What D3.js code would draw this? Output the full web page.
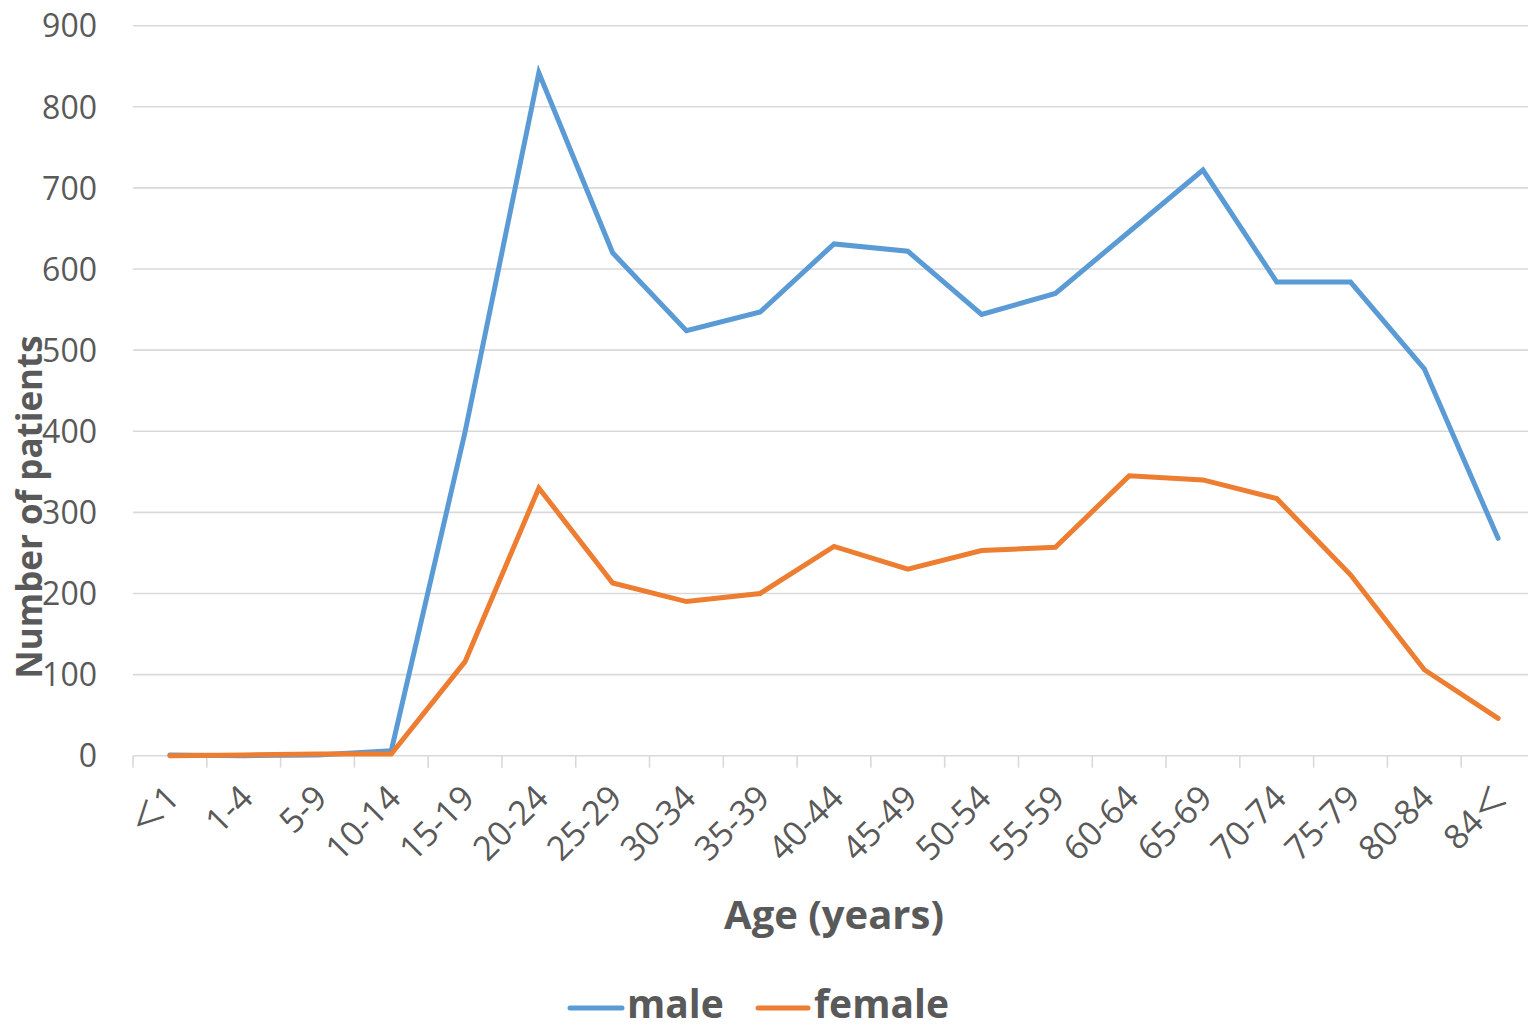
<!DOCTYPE html>
<html>
<head>
<meta charset="utf-8">
<script src="https://cdn.jsdelivr.net/npm/d3@7"></script>
<style>
  html, body { margin: 0; padding: 0; background: #fff; }
  svg { display: block; font-family: "Open Sans", "Noto Sans CJK JP", sans-serif; }
</style>
</head>
<body>
<svg id="chart" width="1528" height="1030"></svg>
<script>
const categories = ["＜1","1-4","5-9","10-14","15-19","20-24","25-29","30-34","35-39","40-44","45-49","50-54","55-59","60-64","65-69","70-74","75-79","80-84","84＜"];
const maleValues = [1, 0, 1, 6, 399, 842, 620, 524, 547, 631, 622, 544, 570, 646, 722, 584, 584, 477, 268];
const femaleValues = [0, 1, 2, 2, 116, 330, 213, 190, 200, 258, 230, 253, 257, 345, 340, 317, 223, 106, 46];
const yTicks = [0, 100, 200, 300, 400, 500, 600, 700, 800, 900];
const seriesNames = ["male", "female"];
const seriesColors = ["#5b9bd5", "#ed7d31"];

(function () {
const svg = d3.select("#chart");
const mLeft = 133, mRight = 1535, mTop = 25.7, mBottom = 755.7;
const textColor = "#595959";
const gridColor = "#d9d9d9";

const x = d3.scaleBand().domain(categories).range([mLeft, mRight]).paddingInner(0).paddingOuter(0);
const y = d3.scaleLinear().domain([0, 900]).range([mBottom, mTop]);

// gridlines
svg.append("g").selectAll("line").data(yTicks).join("line")
  .attr("x1", mLeft).attr("x2", 1528)
  .attr("y1", d => y(d)).attr("y2", d => y(d))
  .attr("stroke", gridColor).attr("stroke-width", 1.6);

// y axis labels
const yAxis = d3.axisLeft(y).tickValues(yTicks).tickSize(0).tickPadding(36);
const yg = svg.append("g").attr("transform", `translate(${mLeft},0)`).call(yAxis);
yg.select(".domain").remove();
yg.selectAll("text").attr("fill", textColor).attr("font-size", 32).attr("dy", "0.35em").attr("font-family", "'Open Sans', sans-serif");

// x axis ticks at band boundaries
const boundaries = categories.map(c => x(c)).concat([x(categories[categories.length-1]) + x.bandwidth()]);
svg.append("g").selectAll("line").data(boundaries).join("line")
  .attr("x1", d => d).attr("x2", d => d)
  .attr("y1", mBottom).attr("y2", mBottom + 12)
  .attr("stroke", gridColor).attr("stroke-width", 1.6);

// x labels
svg.append("g").selectAll("text").data(categories).join("text")
  .attr("transform", d => `translate(${x(d) + x.bandwidth()/2 + 3},${mBottom + 36}) rotate(-45)`)
  .attr("text-anchor", "end")
  .attr("dy", "0.35em")
  .attr("fill", textColor)
  .attr("font-size", 34)
  .text(d => d);

// lines
const line = d3.line().x((d, i) => x(categories[i]) + x.bandwidth()/2).y(d => y(d));
[maleValues, femaleValues].forEach((vals, k) => {
  svg.append("path").datum(vals)
    .attr("d", line)
    .attr("fill", "none")
    .attr("stroke", seriesColors[k])
    .attr("stroke-width", 5)
    .attr("stroke-linejoin", "miter")
    .attr("stroke-linecap", "round");
});

// axis titles
svg.append("text")
  .attr("x", 834).attr("y", 929)
  .attr("text-anchor", "middle")
  .attr("fill", textColor).attr("font-size", 40).attr("font-weight", "bold")
  .text("Age (years)");

svg.append("text")
  .attr("transform", `translate(42,507) rotate(-90)`)
  .attr("text-anchor", "middle")
  .attr("fill", textColor).attr("font-size", 35).attr("font-weight", "bold")
  .text("Number of patients");

// legend
const legendItems = [{x0: 570, x1: 622, tx: 627}, {x0: 758, x1: 808, tx: 814}];
seriesNames.forEach((name, k) => {
  const it = legendItems[k];
  svg.append("line")
    .attr("x1", it.x0).attr("x2", it.x1)
    .attr("y1", 1008).attr("y2", 1008)
    .attr("stroke", seriesColors[k]).attr("stroke-width", 5).attr("stroke-linecap", "round");
  svg.append("text")
    .attr("x", it.tx).attr("y", 1018)
    .attr("fill", textColor).attr("font-size", 39).attr("font-weight", "bold")
    .text(name);
});
})();
</script>
</body>
</html>
